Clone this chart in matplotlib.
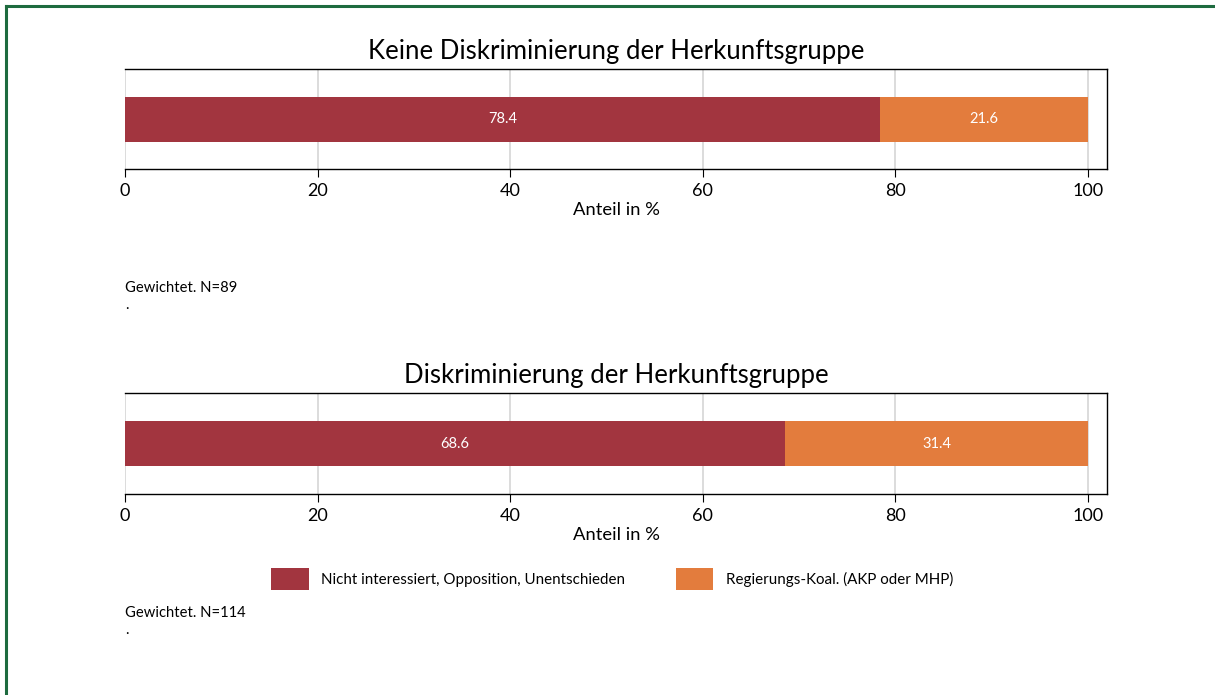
'''
stacked horizontal bars: vote intention by discrimination experience
'''
import matplotlib
matplotlib.use('Agg')
import matplotlib.pyplot as plt
from matplotlib.patches import Patch
from matplotlib.lines import Line2D

plt.rcParams['font.family'] = ['Lato', 'DejaVu Sans']

## data
groups = ['Keine Diskriminierung der Herkunftsgruppe', 'Diskriminierung der Herkunftsgruppe']
nicht_int = [78.4, 68.6]
reg_koal = [21.6, 31.4]
n_obs = [89, 114]
series_names = ['Nicht interessiert, Opposition, Unentschieden', 'Regierungs-Koal. (AKP oder MHP)']
ticks = [0, 20, 40, 60, 80, 100]

colors = ['#A2353F', '#E37C3D']


def draw_panel(ax, title, v1, v2):
	ax.barh(0, v1, height=0.9, color=colors[0], zorder=3)
	ax.barh(0, v2, left=v1, height=0.9, color=colors[1], zorder=3)
	ax.text(v1 / 2., 0, '%.1f' % v1, color='white', ha='center', va='center', fontsize=10.5, zorder=4)
	ax.text(v1 + v2 / 2., 0, '%.1f' % v2, color='white', ha='center', va='center', fontsize=10.5, zorder=4)
	ax.set_xlim(0, 102)
	ax.set_ylim(-1, 1)
	ax.set_yticks([])
	ax.set_xticks(ticks)
	ax.grid(axis='x', color='#d6d6d6', linewidth=1.2, zorder=0)
	ax.spines['left'].set_visible(False)
	for s in ['top', 'right', 'bottom']:
		ax.spines[s].set_linewidth(1.0)
	ax.tick_params(axis='x', labelsize=13, length=6, direction='out', pad=4)
	ax.set_xlabel('Anteil in %', fontsize=13.2, labelpad=2)
	ax.set_title(title, fontsize=18.5, pad=7)


fig = plt.figure(figsize=(12.15, 6.95), dpi=100)
ax1 = fig.add_axes([0.1029, 0.7568, 0.8082, 0.1439])
ax2 = fig.add_axes([0.1029, 0.2892, 0.8082, 0.1453])

for ax, i in zip([ax1, ax2], range(2)):
	draw_panel(ax, groups[i], nicht_int[i], reg_koal[i])

# notes under each panel
fig.text(125 / 1215., 1 - 288 / 695., 'Gewichtet. N=%d' % n_obs[0], fontsize=10.6, va='center')
fig.text(125 / 1215., 1 - 305 / 695., '.', fontsize=10.6, va='center')
fig.text(125 / 1215., 1 - 613 / 695., 'Gewichtet. N=%d' % n_obs[1], fontsize=10.6, va='center')
fig.text(125 / 1215., 1 - 630 / 695., '.', fontsize=10.6, va='center')

handles = [Patch(facecolor=colors[0], label=series_names[0]),
	Patch(facecolor=colors[1], label=series_names[1])]
fig.legend(handles=handles, loc='center', bbox_to_anchor=(0.5036, 1 - 579 / 695.), ncol=2,
	frameon=False, fontsize=10.9, handlelength=2.5, handleheight=1.9,
	handletextpad=0.8, columnspacing=3.35)

# green frame on top and left
fig.add_artist(Line2D([5.5 / 1215., 5.5 / 1215.], [0, 1 - 5.5 / 695.], color='#1E6B3F', linewidth=2.2))
fig.add_artist(Line2D([5.5 / 1215., 1], [1 - 5.5 / 695., 1 - 5.5 / 695.], color='#1E6B3F', linewidth=2.2))

fig.savefig('out.png', dpi=100)
